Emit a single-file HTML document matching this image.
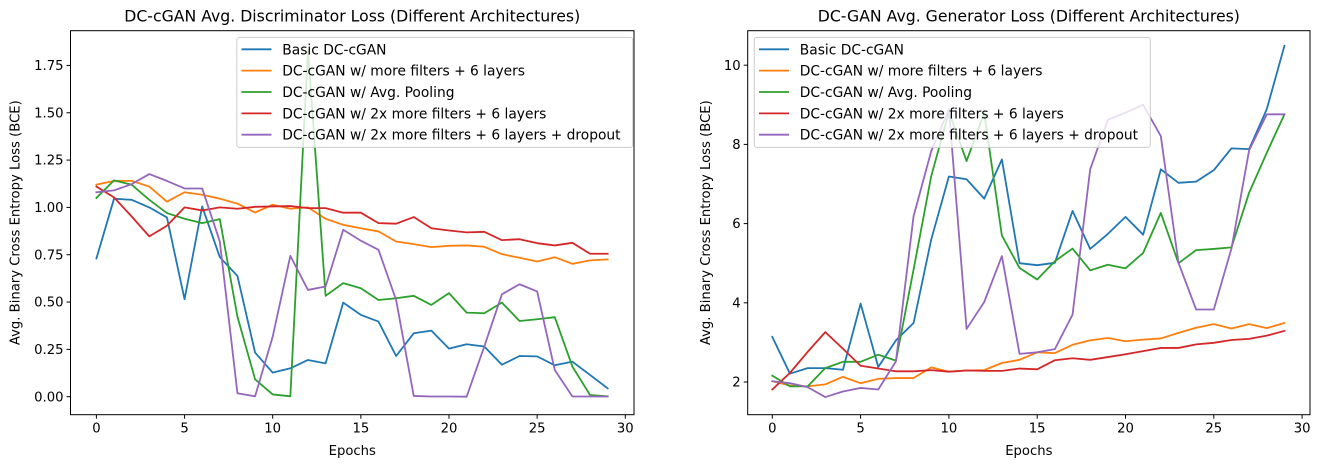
<!DOCTYPE html>
<html><head><meta charset="utf-8"><style>
body{margin:0;background:#fff}
svg{display:block;font-family:"DejaVu Sans","Liberation Sans",sans-serif}
</style></head><body>
<svg id="fig" width="1321" height="468" xmlns="http://www.w3.org/2000/svg"></svg>
<script>
const epochs = Array.from({length:30},(_,i)=>i);
const seriesNames = ["Basic DC-cGAN","DC-cGAN w/ more filters + 6 layers","DC-cGAN w/ Avg. Pooling","DC-cGAN w/ 2x more filters + 6 layers","DC-cGAN w/ 2x more filters + 6 layers + dropout"];
const colors = ["#1f77b4","#ff7f0e","#2ca02c","#d62728","#9467bd"];
const discBasic = [0.73,1.046,1.04,1.0,0.947,0.515,1.005,0.737,0.638,0.233,0.127,0.15,0.194,0.176,0.497,0.432,0.397,0.215,0.335,0.349,0.254,0.277,0.265,0.169,0.215,0.213,0.166,0.185,0.115,0.044];
const discMore = [1.12,1.14,1.14,1.11,1.03,1.08,1.067,1.046,1.02,0.973,1.014,0.993,1.0,0.94,0.908,0.89,0.873,0.82,0.806,0.79,0.797,0.799,0.792,0.753,0.734,0.714,0.737,0.702,0.72,0.725];
const discPool = [1.05,1.143,1.12,1.04,0.97,0.94,0.917,0.938,0.423,0.092,0.012,0.002,1.83,0.533,0.6,0.573,0.511,0.52,0.533,0.485,0.547,0.444,0.441,0.497,0.4,0.409,0.42,0.159,0.009,0.002];
const disc2x = [1.11,1.053,0.952,0.847,0.903,1.0,0.984,1.0,0.993,1.003,1.005,1.007,0.996,0.996,0.972,0.972,0.917,0.914,0.949,0.89,0.878,0.868,0.871,0.827,0.832,0.811,0.799,0.813,0.755,0.755];
const disc2xDrop = [1.08,1.09,1.123,1.176,1.14,1.1,1.1,0.82,0.018,0.002,0.317,0.744,0.564,0.582,0.882,0.824,0.776,0.511,0.004,0.001,0.001,0.0,0.265,0.541,0.594,0.556,0.141,0.001,0.001,0.001];
const genBasic = [3.14,2.21,2.35,2.35,2.31,3.98,2.38,3.05,3.49,5.6,7.19,7.12,6.63,7.62,5.0,4.95,5.01,6.32,5.36,5.74,6.17,5.72,7.37,7.03,7.06,7.35,7.9,7.88,8.89,10.49];
const genMore = [2.02,1.91,1.89,1.94,2.13,1.97,2.08,2.1,2.1,2.37,2.26,2.29,2.3,2.48,2.56,2.75,2.73,2.94,3.05,3.11,3.03,3.07,3.1,3.24,3.37,3.46,3.35,3.46,3.36,3.49];
const genPool = [2.16,1.89,1.89,2.35,2.51,2.51,2.69,2.54,4.84,7.2,8.82,7.58,8.79,5.7,4.88,4.59,5.05,5.37,4.82,4.96,4.87,5.26,6.27,5.0,5.33,5.36,5.4,6.78,7.79,8.76];
const gen2x = [1.81,2.23,2.76,3.26,2.84,2.41,2.34,2.27,2.27,2.3,2.26,2.29,2.28,2.28,2.34,2.32,2.55,2.6,2.56,2.63,2.7,2.78,2.86,2.86,2.95,2.99,3.06,3.09,3.17,3.29];
const gen2xDrop = [2.02,1.97,1.87,1.62,1.76,1.85,1.81,2.52,6.19,7.83,8.89,3.34,4.02,5.18,2.71,2.75,2.83,3.7,7.37,8.62,8.8,9.0,8.21,5.01,3.83,3.83,5.37,7.85,8.76,8.76];
const xTicks = [0,5,10,15,20,25,30];
const discYTicks = [0,0.25,0.5,0.75,1.0,1.25,1.5,1.75];
const discYLabels = ["0.00","0.25","0.50","0.75","1.00","1.25","1.50","1.75"];
const genYTicks = [2,4,6,8,10];
const genYLabels = ["2","4","6","8","10"];

const NS="http://www.w3.org/2000/svg";
const svg=document.getElementById('fig');
function mk(tag,attrs,parent){const e=document.createElementNS(NS,tag);for(const k in attrs)e.setAttribute(k,attrs[k]);(parent||svg).appendChild(e);return e;}

function chart(cfg){
  const g=mk('g',{});
  
  
  const L=cfg.left,R=cfg.right,T=30.7,B=414.7;
  const xs=e=>cfg.x0+cfg.xk*e;
  const ys=v=>cfg.y0-cfg.yk*(v-cfg.yb);
  const t=mk('text',{x:(L+R)/2,y:21.5,'text-anchor':'middle','font-size':15.7,fill:'#000'},g);
  t.textContent=cfg.title;
  
  
  cfg.series.forEach((s,i)=>{
    const p=mk('polyline',{points:s.map((v,j)=>xs(epochs[j]).toFixed(2)+','+ys(v).toFixed(2)).join(' '),fill:'none',stroke:colors[i],'stroke-width':1.8,'stroke-linejoin':'round','stroke-linecap':'square'},g);
    
    
  });
  const f=mk('rect',{x:L,y:T,width:R-L,height:B-T,fill:'none',stroke:'#000','stroke-width':1},g);
  
  
  xTicks.forEach(v=>{
    const x=xs(v);
    const tk=mk('line',{x1:x,y1:B,x2:x,y2:B+4,stroke:'#000','stroke-width':1},g);
    
    
    const tl=mk('text',{x:x,y:B+18,'text-anchor':'middle','font-size':13.2},g);
    tl.textContent=String(v);
    
    
  });
  cfg.yTicks.forEach((v,i)=>{
    const y=ys(v);
    const tk=mk('line',{x1:L-4,y1:y,x2:L,y2:y,stroke:'#000','stroke-width':1},g);
    
    
    const tl=mk('text',{x:L-7,y:y+4.6,'text-anchor':'end','font-size':13.2},g);
    tl.textContent=cfg.yLabels[i];
    
    
  });
  const xl=mk('text',{x:(L+R)/2,y:455,'text-anchor':'middle','font-size':13.2},g);
  xl.textContent='Epochs';
  
  
  const yl=mk('text',{x:0,y:0,'text-anchor':'middle','font-size':13.2,transform:`translate(${cfg.ylx},${(T+B)/2}) rotate(-90)`},g);
  yl.textContent='Avg. Binary Cross Entropy Loss (BCE)';
  
  
  const lg=mk('g',{},g);
  
  
  mk('rect',{x:cfg.lgx,y:37.4,width:396,height:110,rx:2.5,fill:'#fff','fill-opacity':0.8,stroke:'#ccc','stroke-width':1},lg);
  seriesNames.forEach((n,i)=>{
    const y=49.3+21.35*i;
    const e=mk('g',{},lg);
    
    
    mk('line',{x1:cfg.lgx+4.7,y1:y,x2:cfg.lgx+34.7,y2:y,stroke:colors[i],'stroke-width':1.8},e);
    const tx=mk('text',{x:cfg.lgx+45.5,y:y+5,'font-size':13.8},e);
    tx.textContent=n;
  });
}
chart({name:'discriminator-loss-chart',title:'DC-cGAN Avg. Discriminator Loss (Different Architectures)',left:70.5,right:634,x0:96.4,xk:17.63,y0:396.7,yk:189.3,yb:0,yTicks:discYTicks,yLabels:discYLabels,ylx:19.5,lgx:236.8,series:[discBasic,discMore,discPool,disc2x,disc2xDrop]});
chart({name:'generator-loss-chart',title:'DC-GAN Avg. Generator Loss (Different Architectures)',left:747.7,right:1310,x0:772.3,xk:17.66,y0:382,yk:39.6,yb:2,yTicks:genYTicks,yLabels:genYLabels,ylx:710,lgx:754.3,series:[genBasic,genMore,genPool,gen2x,gen2xDrop]});
</script>
</body></html>
